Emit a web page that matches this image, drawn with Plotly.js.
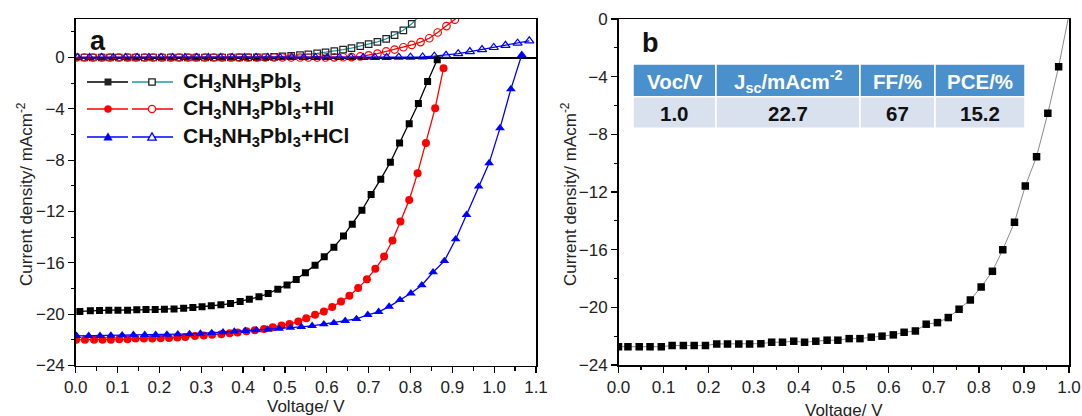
<!DOCTYPE html>
<html>
<head>
<meta charset="utf-8">
<script src="https://cdn.plot.ly/plotly-3.0.1.min.js"></script>
<style>html,body{margin:0;padding:0;background:#fff;}#chart{width:1082px;height:416px;}</style>
</head>
<body>
<div id="chart"></div>
<script>
// ---------- Panel a: J-V curves ----------
// CH3NH3PbI3 (filled squares)
const vPbI3 = [0.010,0.035,0.057,0.079,0.101,0.124,0.146,0.168,0.190,0.212,0.235,0.258,0.280,0.302,0.324,0.347,0.370,0.393,0.415,0.438,0.460,0.483,0.505,0.527,0.549,0.572,0.594,0.617,0.640,0.661,0.684,0.706,0.729,0.752,0.774,0.797,0.819,0.841,0.864];
const jPbI3 = [-19.79,-19.74,-19.72,-19.69,-19.69,-19.69,-19.66,-19.64,-19.64,-19.61,-19.59,-19.53,-19.48,-19.43,-19.35,-19.27,-19.17,-19.02,-18.83,-18.65,-18.39,-18.05,-17.72,-17.30,-16.78,-16.18,-15.53,-14.78,-13.90,-12.99,-11.90,-10.68,-9.48,-8.16,-6.67,-5.17,-3.58,-1.87,-0.18];
// CH3NH3PbI3+HI (filled circles)
const vHI = [0.001,0.022,0.044,0.064,0.084,0.104,0.124,0.143,0.163,0.183,0.203,0.223,0.243,0.262,0.285,0.306,0.326,0.348,0.368,0.387,0.408,0.428,0.450,0.471,0.492,0.511,0.532,0.551,0.572,0.593,0.613,0.634,0.654,0.675,0.696,0.716,0.737,0.757,0.776,0.797,0.817,0.837,0.859,0.879];
const jHI = [-22.00,-22.00,-22.00,-22.00,-22.00,-21.95,-21.95,-21.90,-21.90,-21.90,-21.87,-21.85,-21.82,-21.77,-21.71,-21.67,-21.61,-21.56,-21.48,-21.43,-21.33,-21.25,-21.15,-21.01,-20.89,-20.76,-20.58,-20.31,-20.05,-19.80,-19.45,-19.02,-18.57,-17.97,-17.27,-16.47,-15.51,-14.26,-12.78,-11.10,-9.01,-6.67,-3.95,-0.83];
// CH3NH3PbI3+HCl (filled triangles)
const vHCl = [0.002,0.031,0.058,0.084,0.111,0.138,0.165,0.191,0.218,0.244,0.272,0.298,0.325,0.352,0.379,0.405,0.432,0.459,0.486,0.513,0.539,0.565,0.593,0.617,0.644,0.671,0.698,0.724,0.749,0.775,0.801,0.827,0.854,0.881,0.908,0.934,0.963,0.988,1.014,1.040,1.066];
const jHCl = [-21.69,-21.69,-21.69,-21.67,-21.64,-21.61,-21.61,-21.61,-21.59,-21.56,-21.54,-21.51,-21.46,-21.40,-21.35,-21.30,-21.25,-21.20,-21.12,-21.04,-20.99,-20.91,-20.78,-20.68,-20.52,-20.37,-20.05,-19.82,-19.41,-18.89,-18.37,-17.74,-16.73,-15.85,-14.16,-12.26,-10.05,-8.23,-5.50,-2.46,0.21];
// Dark curves (open markers)
const vPbI3Dark = [0.000,0.021,0.041,0.062,0.082,0.103,0.124,0.144,0.165,0.185,0.206,0.227,0.247,0.268,0.288,0.309,0.330,0.350,0.371,0.391,0.412,0.433,0.453,0.474,0.494,0.515,0.536,0.556,0.577,0.597,0.618,0.639,0.659,0.680,0.700,0.721,0.742,0.762,0.783,0.803,0.824];
const jPbI3Dark = [0.00,0.00,0.00,0.00,0.00,0.00,0.00,0.00,0.00,0.00,0.00,0.00,0.00,0.00,0.00,0.00,0.00,0.00,0.00,0.01,0.01,0.01,0.02,0.05,0.08,0.12,0.18,0.25,0.32,0.40,0.50,0.61,0.73,0.88,1.04,1.22,1.45,1.75,2.12,2.62,3.35];
const vHIDark = [0.000,0.021,0.041,0.062,0.082,0.103,0.124,0.144,0.165,0.185,0.206,0.227,0.247,0.268,0.288,0.309,0.330,0.350,0.371,0.391,0.412,0.433,0.453,0.474,0.494,0.515,0.536,0.556,0.577,0.597,0.618,0.639,0.659,0.680,0.700,0.721,0.742,0.762,0.783,0.803,0.824,0.845,0.865,0.886,0.906,0.927];
const jHIDark = [0.00,0.00,0.00,0.00,0.00,0.00,0.00,0.00,0.00,0.00,0.00,0.00,0.00,0.00,0.00,0.00,0.00,0.00,0.00,0.00,0.00,0.00,0.00,0.00,0.00,0.00,0.00,0.00,0.00,0.00,0.01,0.02,0.03,0.08,0.17,0.30,0.47,0.62,0.80,0.98,1.20,1.50,1.95,2.45,2.95,3.50];
const vHClDark = [0.005,0.033,0.062,0.090,0.119,0.147,0.175,0.204,0.232,0.261,0.289,0.317,0.346,0.374,0.403,0.431,0.459,0.488,0.516,0.545,0.573,0.601,0.630,0.658,0.687,0.715,0.743,0.772,0.800,0.829,0.857,0.885,0.914,0.942,0.971,0.999,1.027,1.056,1.084];
const jHClDark = [0.00,0.00,0.00,0.00,0.00,0.00,0.00,0.00,0.00,0.00,0.00,0.00,0.00,0.00,0.00,0.00,0.00,0.00,0.00,0.00,0.00,0.00,0.00,0.00,0.00,0.01,0.01,0.02,0.03,0.05,0.10,0.17,0.30,0.46,0.62,0.78,0.95,1.12,1.30];

const legendLabels = ['CH<sub>3</sub>NH<sub>3</sub>PbI<sub>3</sub>','CH<sub>3</sub>NH<sub>3</sub>PbI<sub>3</sub>+HI','CH<sub>3</sub>NH<sub>3</sub>PbI<sub>3</sub>+HCl'];

// ---------- Panel b ----------
const vBest = [0.000,0.021,0.046,0.070,0.095,0.119,0.144,0.168,0.193,0.218,0.242,0.267,0.291,0.316,0.340,0.364,0.389,0.413,0.438,0.463,0.487,0.512,0.536,0.561,0.585,0.610,0.634,0.659,0.683,0.708,0.732,0.756,0.781,0.805,0.830,0.853,0.879,0.903,0.928,0.953,0.977];
const jBest = [-22.73,-22.73,-22.73,-22.73,-22.73,-22.65,-22.65,-22.65,-22.65,-22.54,-22.54,-22.54,-22.54,-22.52,-22.42,-22.42,-22.35,-22.42,-22.35,-22.28,-22.28,-22.17,-22.17,-22.07,-22.00,-21.91,-21.73,-21.64,-21.17,-21.06,-20.71,-20.13,-19.49,-18.59,-17.50,-16.00,-14.10,-11.58,-9.55,-6.54,-3.31];
const vFitEnd = [0.998];
const jFitEnd = [0.0];

const tableHeaders = ['Voc/V','J<sub>sc</sub>/mAcm<sup>-2</sup>','FF/%','PCE/%'];
const tableValues = ['1.0','22.7','67','15.2'];
const panelLabels = ['a','b'];
const xTitle = 'Voltage/ V';
const yTitle = 'Current density/ mAcm<sup>-2</sup>';

const W = 1082, H = 416;
const FONT = '"Liberation Sans", Arial, Helvetica, sans-serif';
const px = x => x / W;
const py = y => 1 - y / H;

const BLUE = '#0000ff', RED = '#ff0000', BLACK = '#000000', TEAL = '#1a9e9e';

const traces = [
  {x: vPbI3Dark, y: jPbI3Dark, xaxis:'x', yaxis:'y', mode:'lines+markers', line:{color:TEAL, width:1.3},
   marker:{symbol:'square-open', size:6.5, color:'#222', line:{width:1.2}}},
  {x: vHIDark, y: jHIDark, xaxis:'x', yaxis:'y', mode:'lines+markers', line:{color:RED, width:1.3},
   marker:{symbol:'circle-open', size:7.5, color:RED, line:{width:1.2}}},
  {x: vHClDark, y: jHClDark, xaxis:'x', yaxis:'y', mode:'lines+markers', line:{color:BLUE, width:1.3},
   marker:{symbol:'triangle-up-open', size:8, color:BLUE, line:{width:1.2}}},
  {x: vPbI3, y: jPbI3, xaxis:'x', yaxis:'y', mode:'lines+markers', line:{color:BLACK, width:1.3},
   marker:{symbol:'square', size:7, color:BLACK}},
  {x: vHI, y: jHI, xaxis:'x', yaxis:'y', mode:'lines+markers', line:{color:RED, width:1.3},
   marker:{symbol:'circle', size:8, color:RED}},
  {x: vHCl, y: jHCl, xaxis:'x', yaxis:'y', mode:'lines+markers', line:{color:BLUE, width:1.3},
   marker:{symbol:'triangle-up', size:8.5, color:BLUE}},
  {x: vBest.concat(vFitEnd), y: jBest.concat(jFitEnd), xaxis:'x2', yaxis:'y2', mode:'lines',
   line:{color:'#8a8a8a', width:1}},
  {x: vBest, y: jBest, xaxis:'x2', yaxis:'y2', mode:'markers',
   marker:{symbol:'square', size:7.5, color:BLACK}}
];

const axisCommon = {
  showline:true, linecolor:'#000', linewidth:1.5, mirror:true,
  ticks:'outside', ticklen:6, tickwidth:1.3, tickcolor:'#000',
  showgrid:false, zeroline:false,
  tickfont:{family:FONT, size:17, color:'#222'},
  minor:{ticks:'outside', ticklen:3.5, tickwidth:1.2, tickcolor:'#000', showgrid:false}
};

const shapes = [];
const annotations = [];
// legend glyphs (panel a)
const legRows = [
  {y:82, c1:BLACK, c2:TEAL, sym:'square', ec:'#222'},
  {y:109, c1:RED, c2:RED, sym:'circle', ec:RED},
  {y:137, c1:BLUE, c2:BLUE, sym:'triangle', ec:BLUE}
];
legRows.forEach((r, i) => {
  shapes.push({type:'line', xref:'paper', yref:'paper', x0:px(87), x1:px(128), y0:py(r.y), y1:py(r.y), line:{color:r.c1, width:1.5}});
  shapes.push({type:'line', xref:'paper', yref:'paper', x0:px(132), x1:px(173), y0:py(r.y), y1:py(r.y), line:{color:r.c2, width:1.5}});
  [[108, true], [152, false]].forEach(([cx, filled]) => {
    const fill = filled ? r.ec : '#ffffff';
    const ln = {color: r.ec, width: filled ? 0.5 : 1.3};
    if (r.sym === 'square') {
      shapes.push({type:'rect', xref:'paper', yref:'paper', x0:px(cx-3.2), x1:px(cx+3.2), y0:py(r.y+3.2), y1:py(r.y-3.2), fillcolor:fill, line:ln});
    } else if (r.sym === 'circle') {
      shapes.push({type:'circle', xref:'paper', yref:'paper', x0:px(cx-3.6), x1:px(cx+3.6), y0:py(r.y+3.6), y1:py(r.y-3.6), fillcolor:fill, line:ln});
    } else {
      const p = `M ${px(cx-4.2)},${py(r.y+3.2)} L ${px(cx+4.2)},${py(r.y+3.2)} L ${px(cx)},${py(r.y-4.2)} Z`;
      shapes.push({type:'path', xref:'paper', yref:'paper', path:p, fillcolor:fill, line:ln});
    }
  });
  annotations.push({xref:'paper', yref:'paper', x:px(181), y:py(r.y), xanchor:'left', yanchor:'middle',
    text:'<b>' + legendLabels[i] + '</b>', showarrow:false, font:{family:FONT, size:21, color:'#111'}});
});
annotations.push({xref:'paper', yref:'paper', x:px(98), y:py(41), xanchor:'center', yanchor:'middle',
  text:'<b>' + panelLabels[0] + '</b>', showarrow:false, font:{family:FONT, size:27, color:'#111'}});
annotations.push({xref:'paper', yref:'paper', x:px(650), y:py(43), xanchor:'center', yanchor:'middle',
  text:'<b>' + panelLabels[1] + '</b>', showarrow:false, font:{family:FONT, size:27, color:'#111'}});

// axis titles
const titleFont = {family:FONT, size:17, color:'#222'};
annotations.push({xref:'paper', yref:'paper', x:px(306), y:py(406), xanchor:'center', yanchor:'middle',
  text:xTitle, showarrow:false, font:titleFont});
annotations.push({xref:'paper', yref:'paper', x:px(844), y:py(410), xanchor:'center', yanchor:'middle',
  text:xTitle, showarrow:false, font:titleFont});
annotations.push({xref:'paper', yref:'paper', x:px(25), y:py(194), xanchor:'center', yanchor:'middle',
  text:yTitle, textangle:-90, showarrow:false, font:titleFont});
annotations.push({xref:'paper', yref:'paper', x:px(569), y:py(194), xanchor:'center', yanchor:'middle',
  text:yTitle, textangle:-90, showarrow:false, font:titleFont});

// inset table (panel b) built from shapes + text
const tabCols = [633, 716, 860, 935, 1025];
const tabRows = [64, 96.7, 128.3];
for (let c = 0; c < tableHeaders.length; c++) {
  shapes.push({type:'rect', xref:'paper', yref:'paper', x0:px(tabCols[c]), x1:px(tabCols[c+1]),
    y0:py(tabRows[1]), y1:py(tabRows[0]), fillcolor:'#4a90cc', line:{color:'#ffffff', width:1.5}});
  shapes.push({type:'rect', xref:'paper', yref:'paper', x0:px(tabCols[c]), x1:px(tabCols[c+1]),
    y0:py(tabRows[2]), y1:py(tabRows[1]), fillcolor:'#d8e1ed', line:{color:'#ffffff', width:1.5}});
  const cx = (tabCols[c] + tabCols[c+1]) / 2;
  annotations.push({xref:'paper', yref:'paper', x:px(cx), y:py((tabRows[0] + tabRows[1]) / 2 + 1), xanchor:'center', yanchor:'middle',
    text:'<b>' + tableHeaders[c] + '</b>', showarrow:false, font:{family:FONT, size:20.5, color:'#ffffff'}});
  annotations.push({xref:'paper', yref:'paper', x:px(cx), y:py((tabRows[1] + tabRows[2]) / 2 + 1), xanchor:'center', yanchor:'middle',
    text:'<b>' + tableValues[c] + '</b>', showarrow:false, font:{family:FONT, size:20.5, color:'#111111'}});
}

const layout = {
  width:W, height:H, margin:{l:0, r:0, t:0, b:0},
  paper_bgcolor:'#ffffff', plot_bgcolor:'#ffffff', showlegend:false,
  font:{family:FONT, color:'#222'},
  xaxis: Object.assign({}, axisCommon, {domain:[px(75.7), px(536)], range:[0, 1.1], dtick:0.1, tick0:0, tickformat:'.1f',
    minor:Object.assign({}, axisCommon.minor, {dtick:0.05}), anchor:'y'}),
  yaxis: Object.assign({}, axisCommon, {domain:[py(365.5), py(19)], range:[-24, 3], dtick:4, tick0:0,
    minor:Object.assign({}, axisCommon.minor, {dtick:2}), anchor:'x',
    zeroline:true, zerolinecolor:'#000', zerolinewidth:2}),
  xaxis2: Object.assign({}, axisCommon, {domain:[px(618.5), px(1069)], range:[0, 1.0], dtick:0.1, tick0:0, tickformat:'.1f',
    minor:Object.assign({}, axisCommon.minor, {dtick:0.05}), anchor:'y2'}),
  yaxis2: Object.assign({}, axisCommon, {domain:[py(365), py(19)], range:[-24, 0], dtick:4, tick0:0,
    minor:Object.assign({}, axisCommon.minor, {dtick:2}), anchor:'x2'}),
  shapes: shapes,
  annotations: annotations
};

Plotly.newPlot('chart', traces, layout, {displayModeBar:false, staticPlot:true});
</script>
</body>
</html>
